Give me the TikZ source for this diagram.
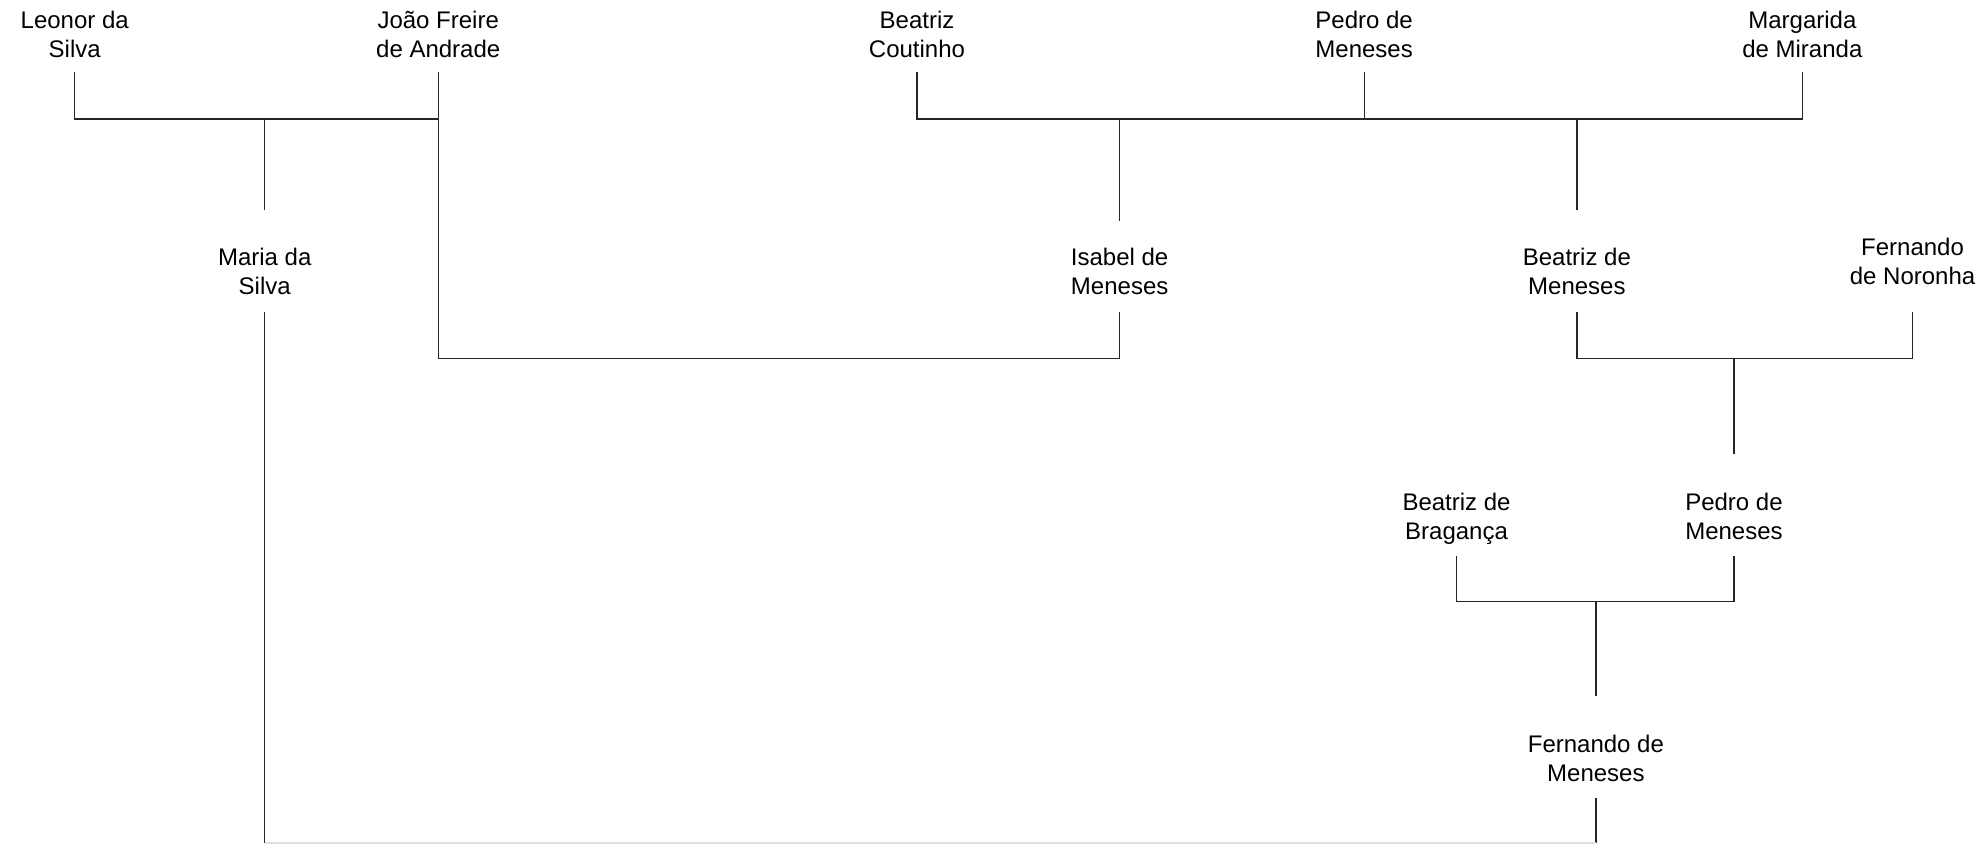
\documentclass[tikz,border=0pt]{standalone}
\usepackage{fontspec}
\setmainfont{Liberation Sans}
\usetikzlibrary{positioning}
\tikzset{
  person/.style={align=center, inner sep=0pt, anchor=south, text height=42.4pt, text depth=8.2pt, font=\fontsize{12}{14.5}\selectfont},
  link/.style={draw=black!85, line width=0.6pt},
}

\begin{document}
\begin{tikzpicture}[x=0.6333pt, y=-0.6333pt]
  \useasboundingbox (0,0) rectangle (1568,667);
  % Define people
  \node[person, text depth=7pt] (leonor) at (59,57) {Leonor da\\Silva};
  \node[person, text depth=7pt] (joao) at (346,57) {João Freire\\de Andrade};
  \node[person, text depth=7pt] (beatrizc) at (724,57) {Beatriz\\Coutinho};
  \node[person, text depth=7pt] (pedroa) at (1077,57) {Pedro de\\Meneses};
  \node[person, text depth=7pt] (margarida) at (1423,57) {Margarida\\de Miranda};
  \node[person] (maria) at (209,246) {Maria da\\Silva};
  \node[person, text height=36.7pt] (isabel) at (884,246) {Isabel de\\Meneses};
  \node[person] (beatrizm) at (1245,246) {Beatriz de\\Meneses};
  \node[person, text depth=13.3pt] (fernandon) at (1510,246) {Fernando\\de Noronha};
  \node[person] (beatrizb) at (1150,439) {Beatriz de\\Bragança};
  \node[person] (pedrob) at (1369,439) {Pedro de\\Meneses};
  \node[person] (fernandom) at (1260,630) {Fernando de\\Meneses};

  % Define joints
  \coordinate (j1) at (209,94);
  \coordinate (j2) at (884,94);
  \coordinate (j3) at (1245,94);
  \coordinate (j4) at (615,283);
  \coordinate (j5) at (1369,283);
  \coordinate (j6) at (1260,475);
  \coordinate (j7) at (735,665.5);

  % Draw edges
  \draw[link] (leonor.south) |- (j1) -| (joao.south);
  \draw[link] (j1) -- (maria.north);
  \draw[link] (beatrizc.south) |- (j2) -- (j3) -| (margarida.south);
  \draw[link] (pedroa.south) -- (pedroa.south |- j2);
  \draw[link] (j2) -- (isabel.north);
  \draw[link] (j3) -- (beatrizm.north);
  \draw[link] (joao.south) |- (j4) -| (isabel.south);
  \draw[link] (beatrizm.south) |- (j5) -| (fernandon.south);
  \draw[link] (j5) -- (pedrob.north);
  \draw[link] (beatrizb.south) |- (j6) -| (pedrob.south);
  \draw[link] (j6) -- (fernandom.north);
  \draw[link] (maria.south) -- (maria.south |- j7);
  \draw[link] (fernandom.south) -- (fernandom.south |- j7);
  \draw[link, draw=black!12] (maria.south |- j7) -- (fernandom.south |- j7);
\end{tikzpicture}
\end{document}
